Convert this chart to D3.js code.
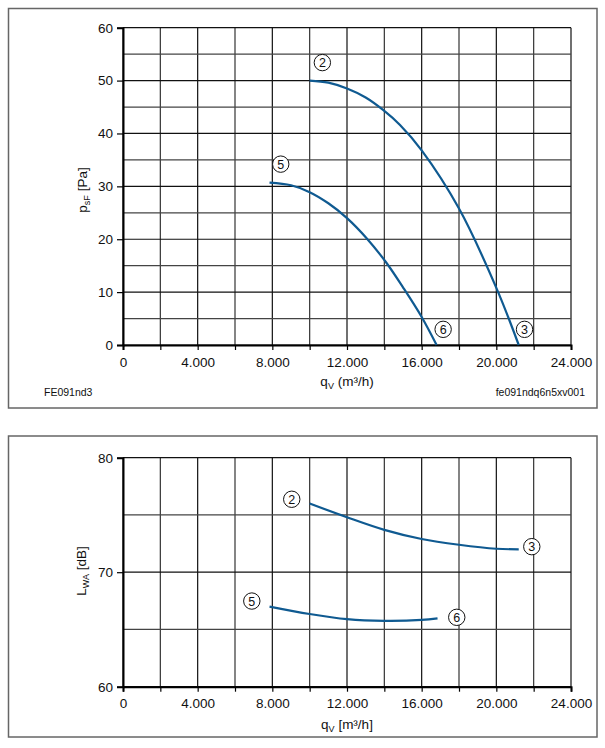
<!DOCTYPE html>
<meta charset="utf-8">
<head>
<script src="https://d3js.org/d3.v7.min.js"></script>
<style>
  body { margin: 0; background: #fff; }
  svg { font-family: "Liberation Sans", Arial, sans-serif; }
</style>
</head>
<body>
<div id="viz"></div>
<script>
// pressure curve (top chart)
var flowP23 = [10000, 11000, 12000, 13000, 13950, 14840, 16000, 18000, 20000, 21200];
var psfP23 = [50, 49.6, 48.5, 46.8, 44.4, 41.6, 36.8, 25.8, 10.8, 0];
var flowP56 = [7850, 9000, 10000, 11000, 12000, 13050, 14100, 15000, 16000, 16800];
var psfP56 = [30.7, 30.2, 28.9, 26.8, 24.0, 20.2, 15.6, 10.9, 5.3, 0];

// sound power curve (bottom chart)
var flowL23 = [10000, 12000, 14000, 16000, 18000, 20000, 21200];
var lwaL23 = [76.0, 74.8, 73.7, 72.9, 72.4, 72.05, 72.0];
var flowL56 = [7850, 10000, 12000, 14000, 16000, 16850];
var lwaL56 = [67.0, 66.35, 65.9, 65.75, 65.83, 65.97];

// operating point markers
var pointNamesP = ["2", "3", "5", "6"];
var pointFlowP = [10680, 21510, 8450, 17150];
var pointPsfP = [53.4, 2.96, 34.2, 2.96];
var pointNamesL = ["2", "3", "5", "6"];
var pointFlowL = [9040, 21900, 6900, 17880];
var pointLwaL = [76.37, 72.23, 67.48, 66.06];

var xTicks = d3.range(0, 24001, 2000);
var psfTicks = d3.range(0, 61, 5);
var lwaTicks = d3.range(60, 81, 5);

var locale = d3.formatLocale({ decimal: ",", thousands: ".", grouping: [3], currency: ["", ""] });
var fmt = locale.format(",");

var svg = d3.select("#viz").append("svg")
    .attr("width", 605)
    .attr("height", 748);

var lineColor = "#0f5a91";

function zip(xs, ys) {
    return xs.map(function (d, i) { return [d, ys[i]]; });
}

function drawChart(opt) {
    var x = d3.scaleLinear().domain([0, 24000]).range([123, 571]);
    var y = d3.scaleLinear().domain(opt.yDomain).range(opt.yRange);

    // frame
    svg.append("rect")
        .attr("x", 8.5).attr("y", opt.frame[0])
        .attr("width", 588.5).attr("height", opt.frame[1] - opt.frame[0])
        .attr("fill", "none").attr("stroke", "#666").attr("stroke-width", 1.5);

    var g = svg.append("g");

    // grid
    g.selectAll(".vgrid").data(xTicks).enter().append("line")
        .attr("x1", function (d) { return x(d); })
        .attr("x2", function (d) { return x(d); })
        .attr("y1", y.range()[0]).attr("y2", y.range()[1])
        .attr("stroke", function (d) { return d % 4000 == 0 ? "#111" : "#333"; })
        .attr("stroke-width", 1.2);
    g.selectAll(".hgrid").data(opt.yTicks).enter().append("line")
        .attr("x1", x(0)).attr("x2", x(24000))
        .attr("y1", function (d) { return y(d); })
        .attr("y2", function (d) { return y(d); })
        .attr("stroke", function (d) { return d % 10 == 0 ? "#111" : "#444"; })
        .attr("stroke-width", 1.2);

    // x axis
    var xa = g.append("g")
        .attr("transform", "translate(0," + y.range()[0] + ")")
        .call(d3.axisBottom(x).tickValues(xTicks).tickSize(5).tickPadding(7)
            .tickFormat(function (d) { return d % 4000 == 0 ? fmt(d) : ""; }));
    xa.select(".domain").attr("stroke", "#000").attr("stroke-width", 2);
    xa.selectAll(".tick line").attr("stroke", "#000").attr("stroke-width", 1.2);
    xa.selectAll("text").attr("font-size", 13.5).attr("fill", "#111")
        .style("font-family", "Liberation Sans, Arial, sans-serif");

    // y axis
    var ya = g.append("g")
        .attr("transform", "translate(" + x(0) + ",0)")
        .call(d3.axisLeft(y).tickValues(opt.yLabels).tickSize(6).tickPadding(4));
    ya.select(".domain").attr("stroke", "#000").attr("stroke-width", 2);
    ya.selectAll(".tick line").attr("stroke", "#000").attr("stroke-width", 1.2);
    ya.selectAll("text").attr("font-size", 13.5).attr("fill", "#111")
        .style("font-family", "Liberation Sans, Arial, sans-serif");

    // curves
    var line = d3.line()
        .x(function (d) { return x(d[0]); })
        .y(function (d) { return y(d[1]); })
        .curve(d3.curveCatmullRom.alpha(0.5));
    opt.curves.forEach(function (c) {
        g.append("path")
            .attr("d", line(c))
            .attr("fill", "none")
            .attr("stroke", lineColor)
            .attr("stroke-width", 2.2);
    });

    // numbered markers
    var m = g.selectAll(".marker").data(opt.markers).enter().append("g")
        .attr("transform", function (d) { return "translate(" + x(d[1]) + "," + y(d[2]) + ")"; });
    m.append("circle").attr("r", 8.2)
        .attr("fill", "#fff").attr("stroke", "#111").attr("stroke-width", 1);
    m.append("text").text(function (d) { return d[0]; })
        .attr("text-anchor", "middle").attr("dy", "0.36em")
        .attr("font-size", 12.5).attr("fill", "#111");

    // x title
    var xt = svg.append("text")
        .attr("x", 347).attr("y", opt.xTitleY)
        .attr("text-anchor", "middle")
        .attr("font-size", 13.5).attr("fill", "#111");
    xt.append("tspan").text("q");
    xt.append("tspan").text("V").attr("font-size", 9).attr("dy", 3);
    xt.append("tspan").text(opt.xUnit).attr("dy", -3);

    // y title
    var yt = svg.append("text")
        .attr("transform", "translate(" + opt.yTitle[0] + "," + opt.yTitle[1] + ") rotate(-90)")
        .attr("text-anchor", "middle")
        .attr("font-size", 13.5).attr("fill", "#111");
    yt.append("tspan").text(opt.yName);
    yt.append("tspan").text(opt.ySub).attr("font-size", 9).attr("dy", 3);
    yt.append("tspan").text(opt.yUnit).attr("dy", -3);
}

drawChart({
    frame: [8.5, 408],
    yDomain: [0, 60],
    yRange: [345, 27.7],
    yTicks: psfTicks,
    yLabels: [0, 10, 20, 30, 40, 50, 60],
    curves: [zip(flowP23, psfP23), zip(flowP56, psfP56)],
    markers: pointNamesP.map(function (n, i) { return [n, pointFlowP[i], pointPsfP[i]]; }),
    xTitleY: 386,
    xUnit: " (m\u00b3/h)",
    yTitle: [87, 190],
    yName: "p", ySub: "sF", yUnit: " [Pa]"
});

drawChart({
    frame: [436, 737],
    yDomain: [60, 80],
    yRange: [686.7, 457.7],
    yTicks: lwaTicks,
    yLabels: [60, 70, 80],
    curves: [zip(flowL23, lwaL23), zip(flowL56, lwaL56)],
    markers: pointNamesL.map(function (n, i) { return [n, pointFlowL[i], pointLwaL[i]]; }),
    xTitleY: 729,
    xUnit: " [m\u00b3/h]",
    yTitle: [86, 571],
    yName: "L", ySub: "WA", yUnit: " [dB]"
});

// drawing codes
svg.append("text").attr("x", 44).attr("y", 396)
    .attr("font-size", 10.5).attr("fill", "#111").text("FE091nd3");
svg.append("text").attr("x", 585).attr("y", 396).attr("text-anchor", "end")
    .attr("font-size", 10.5).attr("fill", "#111").text("fe091ndq6n5xv001");
</script>
</body>
